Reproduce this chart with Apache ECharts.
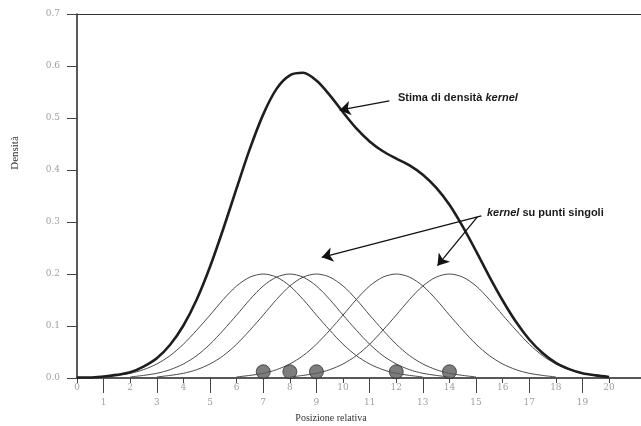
<!DOCTYPE html>
<html>
<head>
<meta charset="utf-8">
<script src="https://cdn.jsdelivr.net/npm/echarts@6/dist/echarts.min.js"></script>
<style>
  html, body { margin: 0; padding: 0; background: #fff; }
  #chart { width: 641px; height: 426px; }
</style>
</head>
<body>
<div id="chart"></div>
<script>
// posizioni lungo l'asse x (passo 0.5)
var posizioni = [0, 0.5, 1, 1.5, 2, 2.5, 3, 3.5, 4, 4.5, 5, 5.5, 6, 6.5, 7, 7.5, 8, 8.5, 9, 9.5,
    10, 10.5, 11, 11.5, 12, 12.5, 13, 13.5, 14, 14.5, 15, 15.5, 16, 16.5, 17, 17.5, 18, 18.5, 19, 19.5, 20];
// stima di densita kernel
var stimaKernel = [0.001, 0.001, 0.003, 0.006, 0.011, 0.022, 0.038, 0.064, 0.101, 0.151, 0.214, 0.287, 0.365, 0.441,
    0.507, 0.556, 0.582, 0.587, 0.572, 0.544, 0.511, 0.480, 0.455, 0.436, 0.422, 0.409, 0.391, 0.366, 0.333, 0.291,
    0.244, 0.195, 0.149, 0.108, 0.074, 0.048, 0.029, 0.017, 0.009, 0.005, 0.002];
// punti singoli (osservazioni)
var puntiDati = [7, 8, 9, 12, 14];
// forma del singolo kernel (distanza dal punto -> altezza)
var kernelOffset = [-6, -5.5, -5, -4.5, -4, -3.5, -3, -2.5, -2, -1.5, -1, -0.5, 0,
    0.5, 1, 1.5, 2, 2.5, 3, 3.5, 4, 4.5, 5, 5.5, 6];
var kernelForma = [0.002, 0.005, 0.009, 0.016, 0.027, 0.043, 0.065, 0.092, 0.121, 0.151, 0.177, 0.194, 0.2,
    0.194, 0.177, 0.151, 0.121, 0.092, 0.065, 0.043, 0.027, 0.016, 0.009, 0.005, 0.002];
var tickPari = [0, 2, 4, 6, 8, 10, 12, 14, 16, 18, 20];
var tickDispari = [1, 3, 5, 7, 9, 11, 13, 15, 17, 19];
var tickY = [0, 0.1, 0.2, 0.3, 0.4, 0.5, 0.6, 0.7];

var myChart = echarts.init(document.getElementById('chart'));

var series = [];
// kernel sui punti singoli
for (var i = 0; i < puntiDati.length; i++) {
    var dati = [];
    for (var j = 0; j < kernelOffset.length; j++) {
        dati.push([puntiDati[i] + kernelOffset[j], kernelForma[j]]);
    }
    series.push({
        type: 'line',
        smooth: 0.3,
        symbol: 'none',
        lineStyle: { color: '#4a4a4a', width: 1 },
        data: dati,
        z: 2
    });
}

var kdeDati = [];
for (var k = 0; k < posizioni.length; k++) {
    kdeDati.push([posizioni[k], stimaKernel[k]]);
}
series.push({
    type: 'line',
    smooth: 0.3,
    symbol: 'none',
    lineStyle: { color: '#1e1e1e', width: 2.6 },
    data: kdeDati,
    z: 3,
    markLine: {
        silent: true,
        animation: false,
        symbol: ['none', 'arrow'],
        symbolSize: 11,
        label: { show: false },
        lineStyle: { color: '#111', width: 1.3, type: 'solid' },
        data: [
            [{ coord: [11.74, 0.533] }, { coord: [9.87, 0.515] }],
            [{ coord: [15.2, 0.312] }, { coord: [9.2, 0.232] }],
            [{ coord: [15.05, 0.31] }, { coord: [13.55, 0.216] }]
        ]
    }
});

var puntiScatter = [];
for (var p = 0; p < puntiDati.length; p++) {
    puntiScatter.push([puntiDati[p], 0.012]);
}
series.push({
    type: 'scatter',
    symbolSize: 14,
    itemStyle: { color: '#5c5c5c', borderColor: '#333', borderWidth: 1 },
    data: puntiScatter,
    z: 4
});

var option = {
    animation: false,
    grid: { left: 77, right: 0, top: 14, bottom: 48 },
    xAxis: [{
        type: 'value',
        min: 0,
        max: 21.2,
        position: 'bottom',
        axisLine: { onZero: false, lineStyle: { color: '#222', width: 1.5 } },
        axisTick: { customValues: tickPari, length: 5, lineStyle: { color: '#444' } },
        axisLabel: { customValues: tickPari, margin: 5, color: '#a0a0a0', fontSize: 9, fontFamily: 'DejaVu Serif' },
        splitLine: { show: false }
    }, {
        type: 'value',
        min: 0,
        max: 21.2,
        position: 'bottom',
        axisLine: { show: false, onZero: false },
        axisTick: { customValues: tickDispari, length: 15, lineStyle: { color: '#444' } },
        axisLabel: { customValues: tickDispari, margin: 20, color: '#a0a0a0', fontSize: 9, fontFamily: 'DejaVu Serif' },
        splitLine: { show: false }
    }, {
        type: 'value',
        min: 0,
        max: 21.2,
        position: 'top',
        axisLine: { onZero: false, lineStyle: { color: '#333', width: 1.2 } },
        axisTick: { show: false },
        axisLabel: { show: false },
        splitLine: { show: false }
    }],
    yAxis: {
        type: 'value',
        min: 0,
        max: 0.7,
        axisLine: { show: true, lineStyle: { color: '#222', width: 1.5 } },
        axisTick: { customValues: tickY, length: 10, lineStyle: { color: '#444' } },
        axisLabel: {
            customValues: tickY,
            margin: 17,
            color: '#a0a0a0',
            fontSize: 9,
            fontFamily: 'DejaVu Serif',
            formatter: function (v) { return v.toFixed(1); }
        },
        splitLine: { show: false }
    },
    graphic: [{
        type: 'text',
        x: 398,
        y: 98,
        style: {
            text: '{b|Stima di densità }{i|kernel}',
            verticalAlign: 'middle',
            rich: {
                b: { fontFamily: 'Liberation Sans', fontWeight: 'bold', fontSize: 11, fill: '#1a1a1a' },
                i: { fontFamily: 'Liberation Sans', fontWeight: 'bold', fontStyle: 'italic', fontSize: 11, fill: '#1a1a1a' }
            }
        }
    }, {
        type: 'text',
        x: 487,
        y: 213,
        style: {
            text: '{i|kernel}{b| su punti singoli}',
            verticalAlign: 'middle',
            rich: {
                b: { fontFamily: 'Liberation Sans', fontWeight: 'bold', fontSize: 11, fill: '#1a1a1a' },
                i: { fontFamily: 'Liberation Sans', fontWeight: 'bold', fontStyle: 'italic', fontSize: 11, fill: '#1a1a1a' }
            }
        }
    }, {
        type: 'text',
        x: 15,
        y: 153,
        rotation: Math.PI / 2,
        style: {
            text: 'Densità',
            align: 'center',
            verticalAlign: 'middle',
            font: '11px "Liberation Serif"',
            fill: '#333'
        }
    }, {
        type: 'text',
        x: 331,
        y: 418,
        style: {
            text: 'Posizione relativa',
            align: 'center',
            verticalAlign: 'middle',
            font: '10px "Liberation Serif"',
            fill: '#333'
        }
    }],
    series: series
};

myChart.setOption(option);
</script>
</body>
</html>
